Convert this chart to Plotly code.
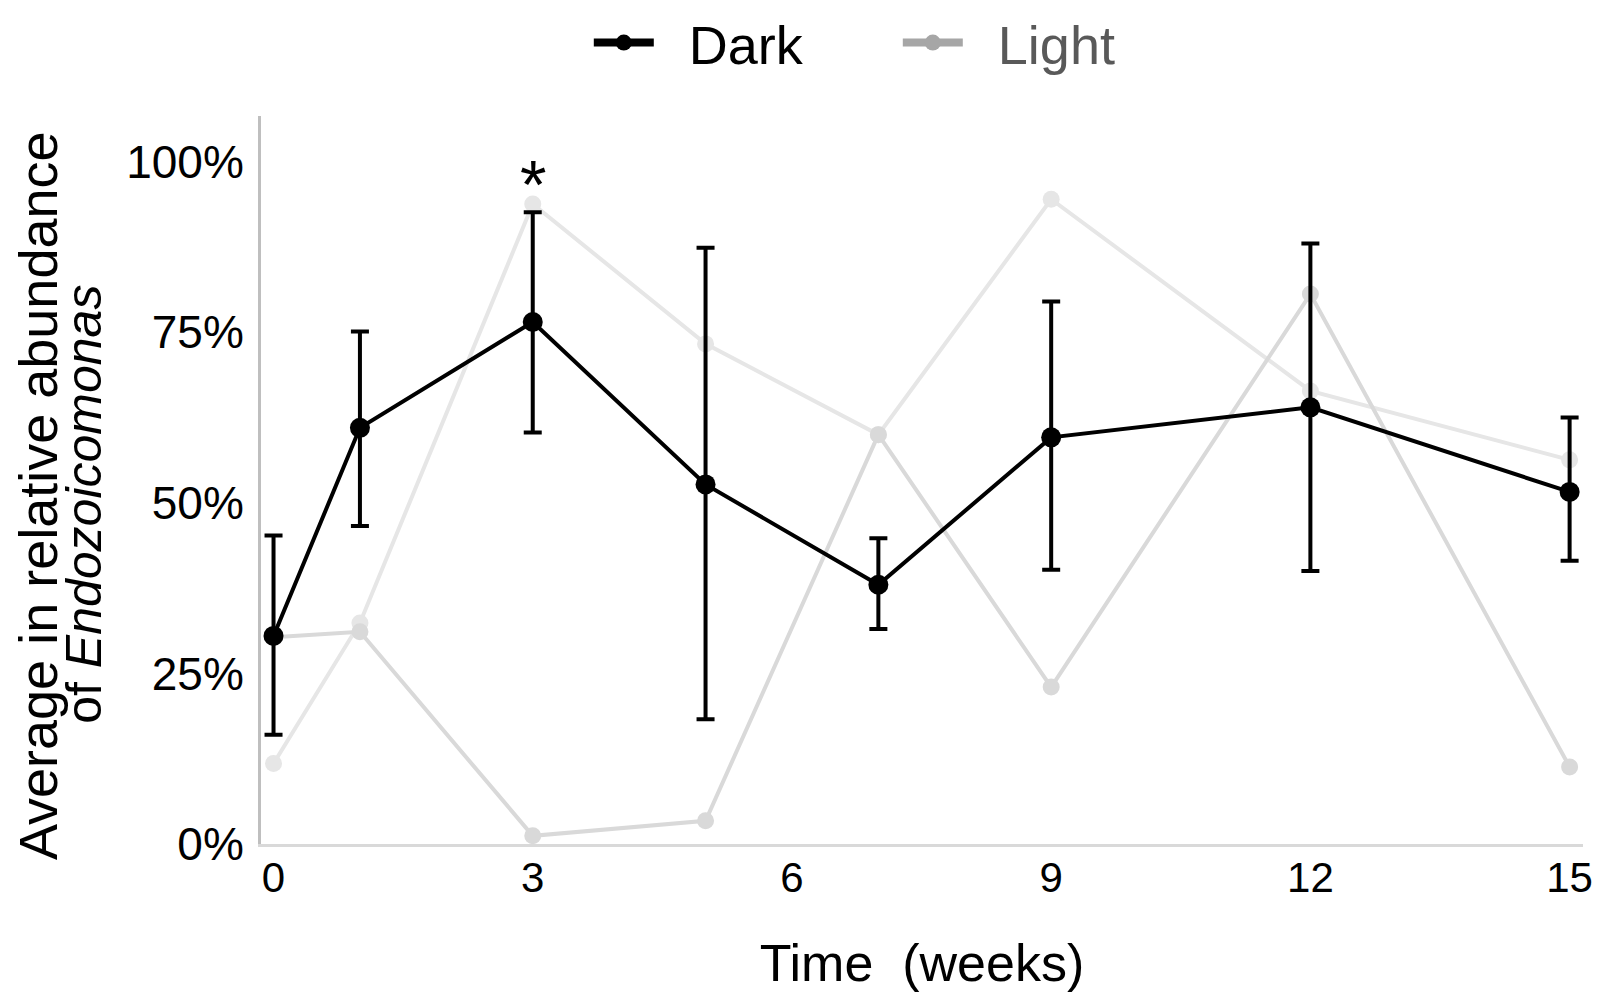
import plotly.graph_objects as go

# Sampling times (weeks)
weeks = [0, 1, 3, 5, 7, 9, 12, 15]

# Dark treatment: mean relative abundance (%) and error bar ends
dark_mean = [30.5, 61.0, 76.5, 52.7, 38.0, 59.6, 64.0, 51.6]
dark_high = [45.2, 75.1, 92.6, 87.4, 44.8, 79.5, 88.0, 62.5]
dark_low = [16.0, 46.6, 60.3, 18.3, 31.5, 40.2, 40.0, 41.5]

# Light treatment: two replicate series (%)
light_rep1 = [11.8, 32.4, 93.8, 73.3, 60.0, 94.5, 66.4, 56.3]
light_rep2 = [30.3, 31.1, 1.2, 3.4, 60.0, 23.0, 80.6, 11.3]

y_ticks = [0, 25, 50, 75, 100]
x_ticks = [0, 3, 6, 9, 12, 15]

err_plus = [h - m for h, m in zip(dark_high, dark_mean)]
err_minus = [m - l for m, l in zip(dark_mean, dark_low)]

narrow = 'Liberation Sans Narrow, Liberation Sans, Arial'

fig = go.Figure()

fig.add_trace(go.Scatter(
    x=weeks, y=light_rep1, mode='lines+markers', showlegend=False,
    line=dict(color='#e6e6e6', width=4),
    marker=dict(color='#e6e6e6', size=17),
    cliponaxis=False))
fig.add_trace(go.Scatter(
    x=weeks, y=light_rep2, mode='lines+markers', showlegend=False,
    line=dict(color='#d9d9d9', width=4),
    marker=dict(color='#d9d9d9', size=17),
    cliponaxis=False))

fig.add_trace(go.Scatter(
    x=weeks, y=dark_mean, mode='lines+markers', showlegend=False,
    line=dict(color='black', width=4),
    marker=dict(color='black', size=20),
    error_y=dict(type='data', symmetric=False, array=err_plus, arrayminus=err_minus,
                 color='black', thickness=4, width=9),
    cliponaxis=False))

# legend-only entries
fig.add_trace(go.Scatter(
    x=[None], y=[None], mode='lines+markers', name='&nbsp;&nbsp;Dark',
    line=dict(color='black', width=8), marker=dict(color='black', size=16)))
fig.add_trace(go.Scatter(
    x=[None], y=[None], mode='lines+markers',
    name="&nbsp;&nbsp;<span style='color:#595959'>Light</span>",
    line=dict(color='#a6a6a6', width=8), marker=dict(color='#a6a6a6', size=16)))

# significance mark
fig.add_annotation(x=3, y=dark_high[2], yshift=28, text='*', showarrow=False,
                   font=dict(size=68, color='black'))

# y-axis title (two lines, genus in italics)
fig.add_annotation(xref='paper', yref='paper', x=0, xshift=-255, y=0.478,
                   text='Average in relative abundance',
                   textangle=-90, showarrow=False,
                   font=dict(size=54, color='black'))
fig.add_annotation(xref='paper', yref='paper', x=0, xshift=-207, y=0.466,
                   text='of <i>Endozoicomonas</i>',
                   textangle=-90, showarrow=False,
                   font=dict(size=50, color='black'))

fig.update_layout(
    width=1600, height=1002,
    margin=dict(l=253, r=25, t=108, b=166, autoexpand=False),
    plot_bgcolor='white', paper_bgcolor='white',
    font=dict(family='Liberation Sans, Arial', color='black'),
    showlegend=True,
    legend=dict(orientation='h', x=0.363, xanchor='left', xref='container',
                y=1.158, yanchor='top', yref='paper',
                font=dict(size=54, color='black'), itemwidth=60,
                entrywidth=234, tracegroupgap=0),
    xaxis=dict(range=[-0.145, 15.155], tickvals=x_ticks, showgrid=False, zeroline=False,
               showline=True, linecolor='#d9d9d9', linewidth=3,
               ticklabelstandoff=-5,
               tickfont=dict(size=42, family=narrow, color='black'),
               title=dict(text='Time  (weeks)', standoff=45,
                          font=dict(size=52, family=narrow, color='black'))),
    yaxis=dict(range=[0, 106.7], tickvals=y_ticks, ticktext=[f'{v}%' for v in y_ticks],
               showgrid=False, zeroline=False,
               showline=True, linecolor='#bfbfbf', linewidth=3,
               ticklabelstandoff=5,
               tickfont=dict(size=46, color='black')),
)

fig.write_html("out.html")
